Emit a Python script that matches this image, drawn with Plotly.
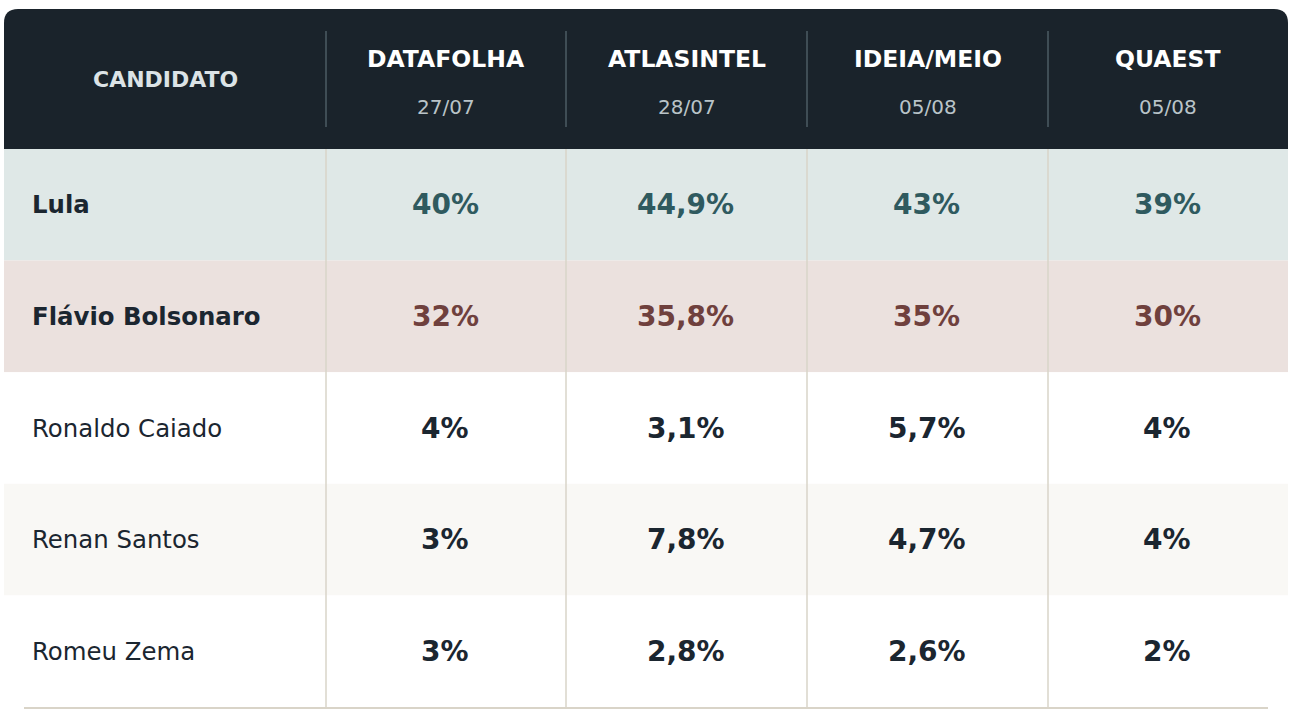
import plotly.graph_objects as go

# data
candidates = ["Lula", "Flávio Bolsonaro", "Ronaldo Caiado", "Renan Santos", "Romeu Zema"]
polls = ["DATAFOLHA", "ATLASINTEL", "IDEIA/MEIO", "QUAEST"]
poll_dates = ["27/07", "28/07", "05/08", "05/08"]
datafolha = [40, 32, 4, 3, 3]
atlasintel = [44.9, 35.8, 3.1, 7.8, 2.8]
ideia_meio = [43, 35, 5.7, 4.7, 2.6]
quaest = [39, 30, 4, 4, 2]
poll_values = [datafolha, atlasintel, ideia_meio, quaest]

# layout (page pixels)
W, H = 1294, 724
col_edges = [4, 326, 566, 807, 1048, 1288]
head_top, head_bot = 9, 149
row_h = 111.6
radius = 14

header_bg = "#1a232b"
header_sep = "#4d5c65"
body_line = "#d9d4c8"
dark = "#1b2630"
row_bg = ["#dfe8e7", "#ebe1de", "#ffffff", "#f9f8f5", "#ffffff"]
row_txt = ["#2f5a5f", "#6f403d", dark, dark, dark]
highlight = [True, True, False, False, False]
font = "DejaVu Sans"


def fmt(v):
  return f"{v:g}".replace(".", ",") + "%"


fig = go.Figure()
# invisible trace to anchor axes
fig.add_trace(go.Scatter(x=[0, W], y=[0, H], mode="markers",
                         marker=dict(opacity=0), hoverinfo="skip", showlegend=False))

shapes = []
annotations = []

# header block with rounded top corners
x0, x1 = col_edges[0], col_edges[-1]
path = (f"M {x0},{head_bot} L {x0},{head_top + radius} "
        f"Q {x0},{head_top} {x0 + radius},{head_top} "
        f"L {x1 - radius},{head_top} Q {x1},{head_top} {x1},{head_top + radius} "
        f"L {x1},{head_bot} Z")
shapes.append(dict(type="path", path=path, xref="x", yref="y",
                   fillcolor=header_bg, line=dict(width=0), layer="below"))

# row backgrounds
for i, c in enumerate(candidates):
  y0 = head_bot + i * row_h
  shapes.append(dict(type="rect", xref="x", yref="y", x0=x0, x1=x1,
                     y0=y0, y1=y0 + row_h, fillcolor=row_bg[i],
                     line=dict(width=0), layer="below"))

body_bot = head_bot + len(candidates) * row_h

# column separators
for xe in col_edges[1:-1]:
  shapes.append(dict(type="line", xref="x", yref="y", x0=xe, x1=xe,
                     y0=31, y1=127, line=dict(color=header_sep, width=1.5)))
  shapes.append(dict(type="line", xref="x", yref="y", x0=xe, x1=xe,
                     y0=head_bot, y1=body_bot, line=dict(color=body_line, width=1.5)))

# bottom rule
shapes.append(dict(type="line", xref="x", yref="y", x0=24, x1=1268,
                   y0=body_bot + 1, y1=body_bot + 1,
                   line=dict(color=body_line, width=2)))

# header texts
annotations.append(dict(x=(col_edges[0] + col_edges[1]) / 2, y=79, text="<b>CANDIDATO</b>",
                        showarrow=False, font=dict(family=font, size=22, color="#dce3e6")))
for j, p in enumerate(polls):
  cx = (col_edges[j + 1] + col_edges[j + 2]) / 2
  annotations.append(dict(x=cx, y=59, text=f"<b>{p}</b>", showarrow=False,
                          font=dict(family=font, size=23.5, color="#ffffff")))
  annotations.append(dict(x=cx, y=107, text=poll_dates[j], showarrow=False,
                          font=dict(family=font, size=20, color="#b9c3c8")))

# body texts
for i, c in enumerate(candidates):
  cy = head_bot + i * row_h + row_h / 2
  name = f"<b>{c}</b>" if highlight[i] else c
  annotations.append(dict(x=30, y=cy, text=name, xanchor="left", showarrow=False,
                          font=dict(family=font, size=24.4, color=dark)))
  for j, vals in enumerate(poll_values):
    cx = (col_edges[j + 1] + col_edges[j + 2]) / 2 - 1
    annotations.append(dict(x=cx, y=cy, text=f"<b>{fmt(vals[i])}</b>", showarrow=False,
                            font=dict(family=font, size=28, color=row_txt[i])))

fig.update_layout(
  width=W,
  height=H,
  margin=dict(l=0, r=0, t=0, b=0, pad=0),
  paper_bgcolor="white",
  plot_bgcolor="white",
  shapes=shapes,
  annotations=annotations,
  showlegend=False,
)
fig.update_xaxes(range=[0, W], visible=False, fixedrange=True)
fig.update_yaxes(range=[H, 0], visible=False, fixedrange=True)

fig.write_html("out.html", config=dict(displayModeBar=False),
               post_script="document.body.style.margin = '0';")
